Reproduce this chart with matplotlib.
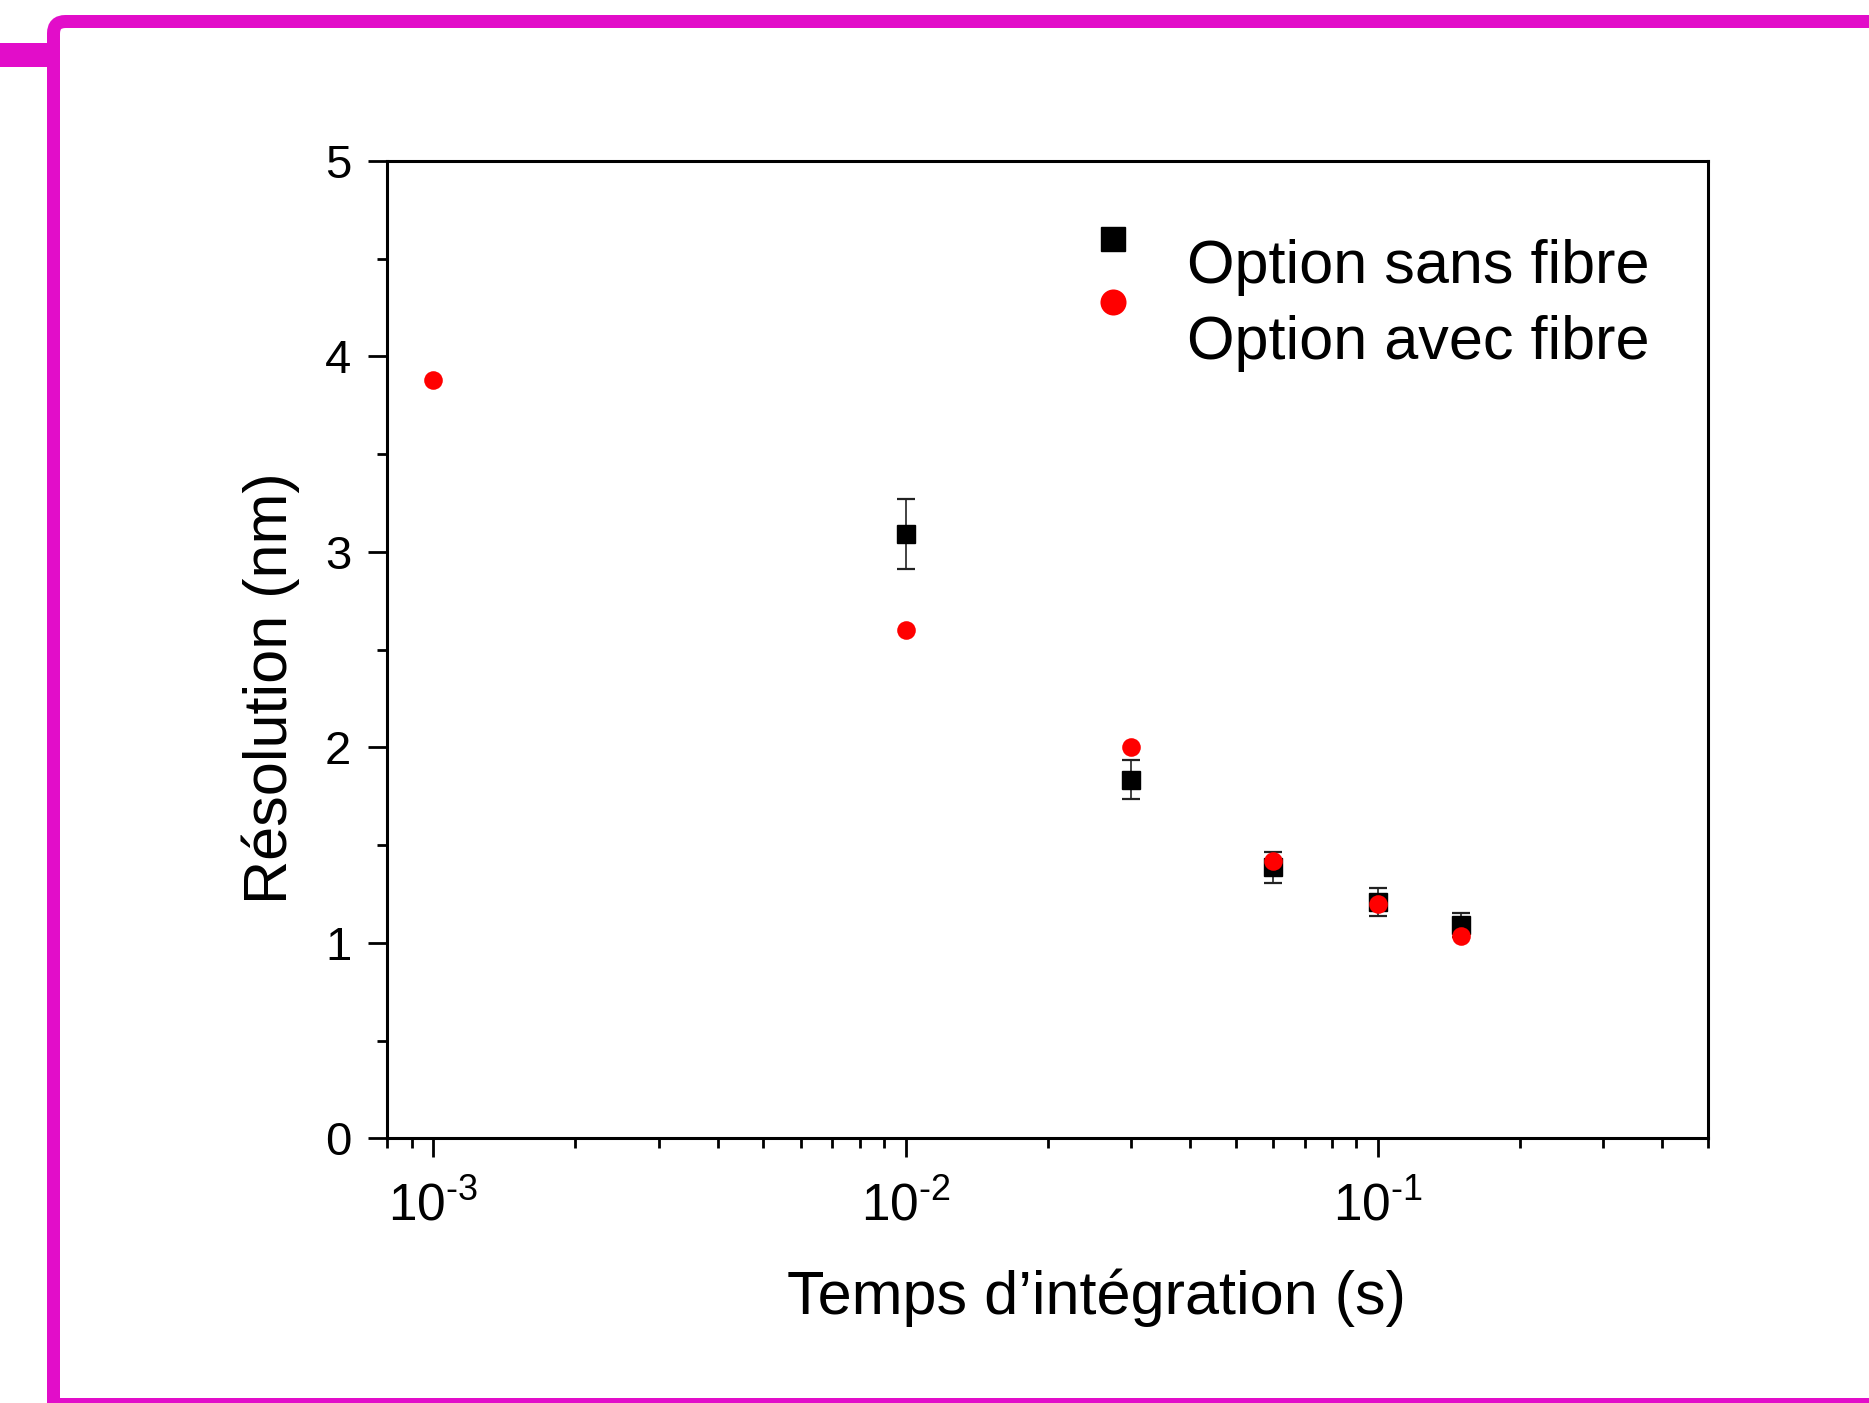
import matplotlib
matplotlib.use('Agg')
import matplotlib.pyplot as plt
from matplotlib.patches import FancyBboxPatch, Rectangle
from matplotlib.transforms import IdentityTransform
from matplotlib.legend_handler import HandlerLine2D
from matplotlib.ticker import FixedLocator, LogLocator, MultipleLocator, FixedFormatter, NullFormatter

# ---- data ----
t_sans = [0.01, 0.03, 0.06, 0.1, 0.15]
res_sans = [3.09, 1.835, 1.387, 1.21, 1.09]
err_sans = [0.18, 0.10, 0.08, 0.072, 0.06]

t_avec = [0.001, 0.01, 0.03, 0.06, 0.1, 0.15]
res_avec = [3.88, 2.60, 2.00, 1.42, 1.196, 1.035]

series_labels = ['Option sans fibre', 'Option avec fibre']
y_ticks = [0, 1, 2, 3, 4, 5]
x_ticks = [1e-3, 1e-2, 1e-1]
x_tick_labels = [r'$\mathregular{10^{\text{-}3}}$', r'$\mathregular{10^{\text{-}2}}$',
                 r'$\mathregular{10^{\text{-}1}}$']
x_label = 'Temps d\u2019int\u00e9gration (s)'
y_label = 'R\u00e9solution (nm)'

# ---- style ----
plt.rcParams['font.family'] = ['Liberation Sans', 'DejaVu Sans']
plt.rcParams['mathtext.fontset'] = 'custom'
plt.rcParams['mathtext.rm'] = 'Liberation Sans'
plt.rcParams['mathtext.it'] = 'Liberation Sans:italic'
plt.rcParams['mathtext.bf'] = 'Liberation Sans:bold'


class ShiftHandler(HandlerLine2D):
    """Legend handler that raises the marker above the text line."""
    def __init__(self, dy, **kw):
        super().__init__(**kw)
        self.dy = dy

    def create_artists(self, legend, orig_handle, xdescent, ydescent,
                       width, height, fontsize, trans):
        return super().create_artists(legend, orig_handle, xdescent,
                                      ydescent - 2 * self.dy, width, height,
                                      fontsize, trans)


W, H = 1869, 1403
fig = plt.figure(figsize=(W / 100, H / 100), dpi=100)
fig.patch.set_facecolor('white')

# magenta frame decoration
mag = '#e20dc9'
frame = FancyBboxPatch((53.5, -200), 1900, H - 21.5 + 200,
                       boxstyle='round,pad=0,rounding_size=12',
                       linewidth=13 * 0.72, edgecolor=mag, facecolor='none',
                       transform=IdentityTransform())
fig.add_artist(frame)
stub = Rectangle((0, H - 67), 50, 24, facecolor=mag, edgecolor='none',
                 transform=IdentityTransform())
fig.add_artist(stub)
bottom_bar = Rectangle((47, 0), W, 5, facecolor=mag, edgecolor='none',
                       transform=IdentityTransform())
fig.add_artist(bottom_bar)

ax = fig.add_axes([0.2073, 0.1887, 0.7066, 0.6966])

eb = ax.errorbar(t_sans, res_sans, yerr=err_sans, fmt='s', color='black',
                 ms=12.3, ecolor='#222222', elinewidth=1.2, capsize=6.5,
                 capthick=1.6, zorder=2)
red, = ax.plot(t_avec, res_avec, 'o', color='red', ms=13.4, zorder=3,
               markeredgewidth=0)

ax.set_xscale('log')
ax.set_xlim(8e-4, 0.5)
ax.set_ylim(0, 5)

ax.xaxis.set_major_locator(FixedLocator(x_ticks))
ax.xaxis.set_major_formatter(FixedFormatter(x_tick_labels))
ax.xaxis.set_minor_locator(LogLocator(base=10, subs=range(2, 10), numticks=20))
ax.xaxis.set_minor_formatter(NullFormatter())
ax.yaxis.set_major_locator(FixedLocator(y_ticks))
ax.yaxis.set_minor_locator(MultipleLocator(0.5))

for sp in ax.spines.values():
    sp.set_linewidth(2.2)

ax.tick_params(which='major', direction='out', length=14, width=2,
               top=False, right=False)
ax.tick_params(which='minor', direction='out', length=7.5, width=2,
               top=False, right=False)
ax.tick_params(axis='x', which='major', pad=17, labelsize=37)
ax.tick_params(axis='y', which='major', pad=12, labelsize=34)

ax.set_xlabel(x_label, fontsize=44)
ax.set_ylabel(y_label, fontsize=44)
ax.xaxis.set_label_coords(0.537, -0.133)
ax.yaxis.set_label_coords(-0.066, 0.461)

leg = ax.legend([eb.lines[0], red], series_labels, loc='center',
                bbox_to_anchor=(0.741, 0.852), frameon=False, fontsize=44,
                markerscale=1.4, handlelength=1.0, handletextpad=0.72,
                labelspacing=0.3, borderpad=0,
                handler_map={eb.lines[0]: ShiftHandler(16.3),
                             red: ShiftHandler(25.8)})

fig.savefig('out.png', dpi=100)
